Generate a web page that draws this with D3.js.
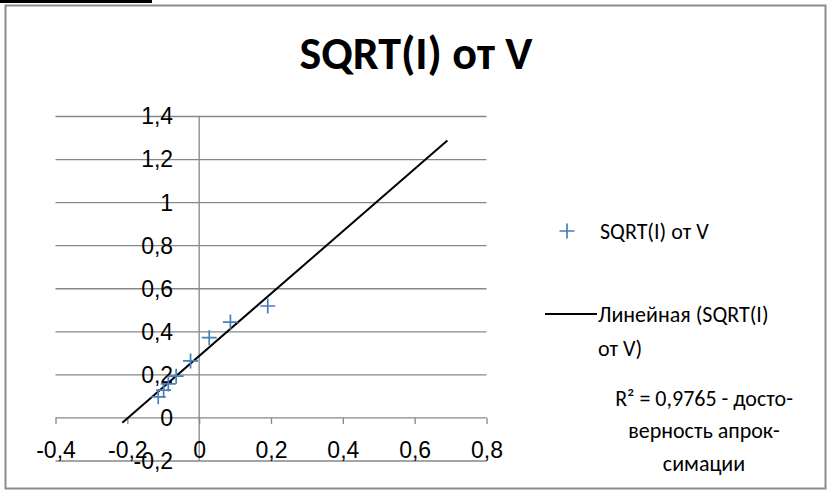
<!DOCTYPE html>
<html>
<head>
<meta charset="utf-8">
<script src="https://cdn.jsdelivr.net/npm/d3@7"></script>
<style>
  html, body { margin: 0; padding: 0; background: #fff; }
  svg { display: block; font-family: Carlito, Calibri, Lato, sans-serif; }
</style>
</head>
<body>
<div id="chart"></div>
<script>
// values: V and SQRT(I)
const vValues = [-0.114, -0.099, -0.086, -0.064, -0.024, 0.028, 0.087, 0.191];
const sqrtI = [0.098, 0.129, 0.158, 0.194, 0.265, 0.373, 0.445, 0.520];

const xTicks = [-0.4, -0.2, 0, 0.2, 0.4, 0.6, 0.8];
const yTicks = [-0.2, 0, 0.2, 0.4, 0.6, 0.8, 1, 1.2, 1.4];

// trendline forecast (backward / forward), as set in the spreadsheet
const trendBackward = 0.1;
const trendForward = 0.5;

const titleText = "SQRT(I) от V";
const seriesName = "SQRT(I) от V";
const trendNameLines = ["Линейная (SQRT(I)", "от V)"];
const r2Lines = ["R² = 0,9765 - досто-", "верность апрок-", "симации"];

const width = 829, height = 491;
const blue = "#4a7ebb", grid = "#878787";

const ru = d3.formatLocale({ decimal: ",", thousands: " ", grouping: [3], currency: ["", ""], minus: "-" });
const fmt = ru.format(".1~f");

const svg = d3.select("#chart").append("svg")
    .attr("width", width)
    .attr("height", height);

svg.append("rect").attr("width", width).attr("height", height).attr("fill", "#fff");

// black strip at the top left and the chart frame
svg.append("rect").attr("x", 0).attr("y", 0).attr("width", 152).attr("height", 3).attr("fill", "#000");
svg.append("rect")
    .attr("x", 5.5).attr("y", 5.5)
    .attr("width", 820).attr("height", 483)
    .attr("fill", "none")
    .attr("stroke", "#8c8c8c")
    .attr("stroke-width", 2);

svg.append("text")
    .attr("x", 416).attr("y", 69)
    .attr("text-anchor", "middle")
    .style("font-size", "46px")
    .style("font-weight", "bold")
    .text(titleText);

const x = d3.scaleLinear().domain([-0.4, 0.8]).range([55.5, 486.5]);
const y = d3.scaleLinear().domain([-0.2, 1.4]).range([461, 116.5]);

// horizontal gridlines
svg.append("g").selectAll("line").data(yTicks).join("line")
    .attr("x1", x(-0.4)).attr("x2", x(0.8))
    .attr("y1", d => y(d)).attr("y2", d => y(d))
    .attr("stroke", grid).attr("stroke-width", 1.3);

// vertical axis line at V = 0
svg.append("line")
    .attr("x1", x(0)).attr("x2", x(0))
    .attr("y1", y(-0.2)).attr("y2", y(1.4))
    .attr("stroke", grid).attr("stroke-width", 1.3);

// x axis crossing at 0, labels placed low
const xAxis = svg.append("g")
    .attr("transform", `translate(0,${y(0)})`)
    .call(d3.axisBottom(x).tickValues(xTicks).tickFormat(fmt).tickSize(6).tickPadding(18));
xAxis.select(".domain").remove();
xAxis.selectAll(".tick line").attr("stroke", grid).attr("stroke-width", 1.3);
xAxis.selectAll(".tick text").attr("fill", "#000").style("font-size", "23px").style("font-family", null);

const yAxis = svg.append("g")
    .attr("transform", `translate(${x(0)},0)`)
    .call(d3.axisLeft(y).tickValues(yTicks).tickFormat(fmt).tickSize(0).tickPadding(26));
yAxis.select(".domain").remove();
yAxis.selectAll(".tick text").attr("fill", "#000").style("font-size", "23px").style("font-family", null);

// linear trendline (least squares)
const n = vValues.length;
const mx = d3.mean(vValues), my = d3.mean(sqrtI);
let sxy = 0, sxx = 0;
for (let i = 0; i < n; i++) {
    sxy += (vValues[i] - mx) * (sqrtI[i] - my);
    sxx += (vValues[i] - mx) ** 2;
}
const slope = sxy / sxx, icpt = my - slope * mx;
const tx0 = d3.min(vValues) - trendBackward, tx1 = d3.max(vValues) + trendForward;
svg.append("line")
    .attr("x1", x(tx0)).attr("y1", y(icpt + slope * tx0))
    .attr("x2", x(tx1)).attr("y2", y(icpt + slope * tx1))
    .attr("stroke", "#000").attr("stroke-width", 2);

// data markers
const plusPath = "M-7.5,0H7.5M0,-7.5V7.5";
const pts = vValues.map((v, i) => [v, sqrtI[i]]);
svg.append("g").selectAll("path").data(pts).join("path")
    .attr("d", plusPath)
    .attr("transform", d => `translate(${x(d[0])},${y(d[1])})`)
    .attr("stroke", blue).attr("stroke-width", 1.7).attr("fill", "none");

// legend
const lg = svg.append("g").style("font-size", "22px");
lg.append("path").attr("d", plusPath)
    .attr("transform", "translate(567,231)")
    .attr("stroke", blue).attr("stroke-width", 1.7);
lg.append("text").attr("x", 600).attr("y", 231).attr("dy", "0.35em").text(seriesName);

lg.append("line").attr("x1", 545).attr("x2", 597).attr("y1", 314).attr("y2", 314)
    .attr("stroke", "#000").attr("stroke-width", 2);
lg.selectAll("text.tn").data(trendNameLines).join("text")
    .attr("class", "tn")
    .attr("x", 598).attr("y", (d, i) => 314 + i * 34).attr("dy", "0.35em")
    .text(d => d);

lg.selectAll("text.r2").data(r2Lines).join("text")
    .attr("class", "r2")
    .attr("x", 704).attr("y", (d, i) => 398 + i * 32.5).attr("dy", "0.35em")
    .attr("text-anchor", "middle")
    .text(d => d);
</script>
</body>
</html>
